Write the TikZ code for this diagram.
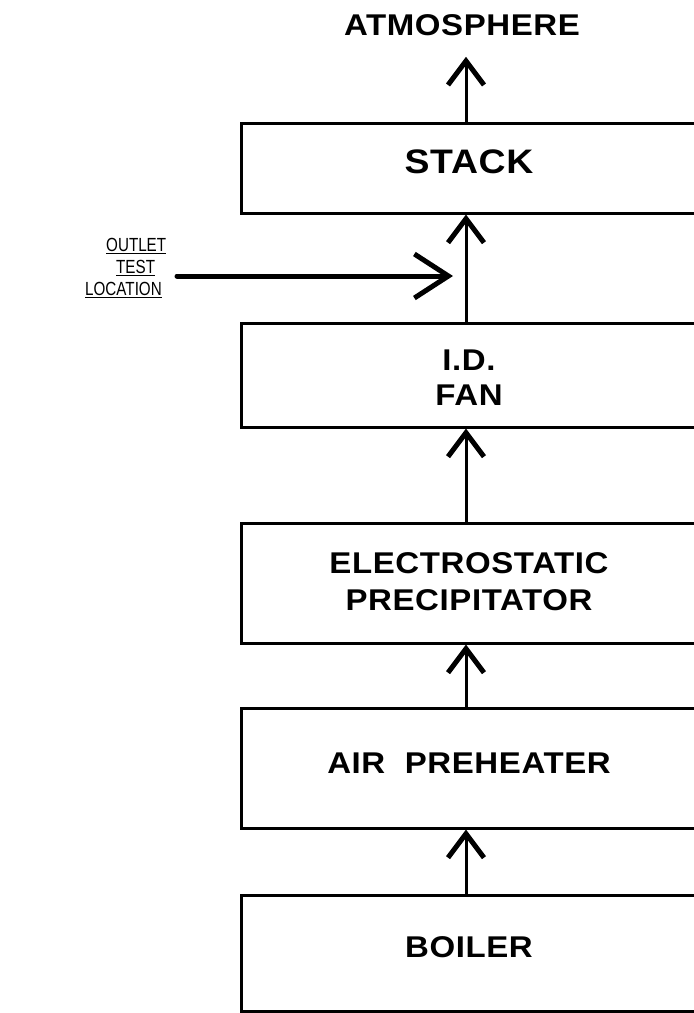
\documentclass[tikz,border=0pt]{standalone}
\usepackage{fontspec}
\setmainfont{Liberation Sans}
\newfontfamily\boxfont{Liberation Sans}[FakeStretch=1.1,LetterSpace=2]
\newfontfamily\narrowfont{Liberation Sans}[FakeStretch=0.8]
\usetikzlibrary{arrows.meta,calc}
\begin{document}
\begin{tikzpicture}[x=1pt,y=-1pt,
  stagebox/.style={draw,line width=3pt,minimum width=456pt,inner sep=0pt,align=center,
    font=\boxfont\bfseries\fontsize{30}{36}\selectfont},
  flow/.style={line width=3pt,-{Straight Barb[length=24pt,width=36pt,line width=5pt]}},
  testarrow/.style={line width=5pt,line cap=round,-{Straight Barb[length=34pt,width=44pt,line width=5pt]}},
  lbl/.style={font=\boxfont\bfseries\fontsize{30}{36}\selectfont,inner sep=0pt},
  testlbl/.style={font=\narrowfont\fontsize{19}{22}\selectfont,align=left,inner sep=0pt,anchor=west},
]
\useasboundingbox (0,0) rectangle (694,1013);
\clip (0,0) rectangle (694,1013);
\fill[white] (0,0) rectangle (694,1013);

\node[lbl] (atm) at (462,25) {ATMOSPHERE};
\node[stagebox,minimum height=90pt,text depth=12pt,font=\boxfont\bfseries\fontsize{34}{40}\selectfont] (stack) at (469,168) {STACK};
\node[stagebox,minimum height=104pt,text height=60pt,font=\boxfont\bfseries\fontsize{30}{35}\selectfont] (fan) at (469,375) {I.D.\\FAN};
\node[stagebox,minimum height=120pt,text depth=3pt,font=\boxfont\bfseries\fontsize{30}{37}\selectfont] (esp) at (469,583) {ELECTROSTATIC\\PRECIPITATOR};
\node[stagebox,minimum height=120pt,text depth=10pt] (air) at (469,768) {AIR\ \ PREHEATER};
\node[stagebox,minimum height=116pt,text depth=12pt] (boiler) at (469,953) {BOILER};

\coordinate (ax) at (466,0);
\draw[flow] (boiler.north -| ax) -- (air.south -| ax);
\draw[flow] (air.north -| ax) -- (esp.south -| ax);
\draw[flow] (esp.north -| ax) -- (fan.south -| ax);
\draw[flow] (fan.north -| ax) -- (stack.south -| ax);
\draw[flow,shorten >=21pt] (stack.north -| ax) -- (atm.south -| ax);

\node[testlbl] (outlet) at (85,268) {\hspace*{21pt}\underline{OUTLET}\\\hspace*{31pt}\underline{TEST}\\\underline{LOCATION}};
\coordinate (hs) at (177,276);
\coordinate (ht) at (453,276);
\draw[testarrow] (hs) -- (ht);
\end{tikzpicture}
\end{document}
